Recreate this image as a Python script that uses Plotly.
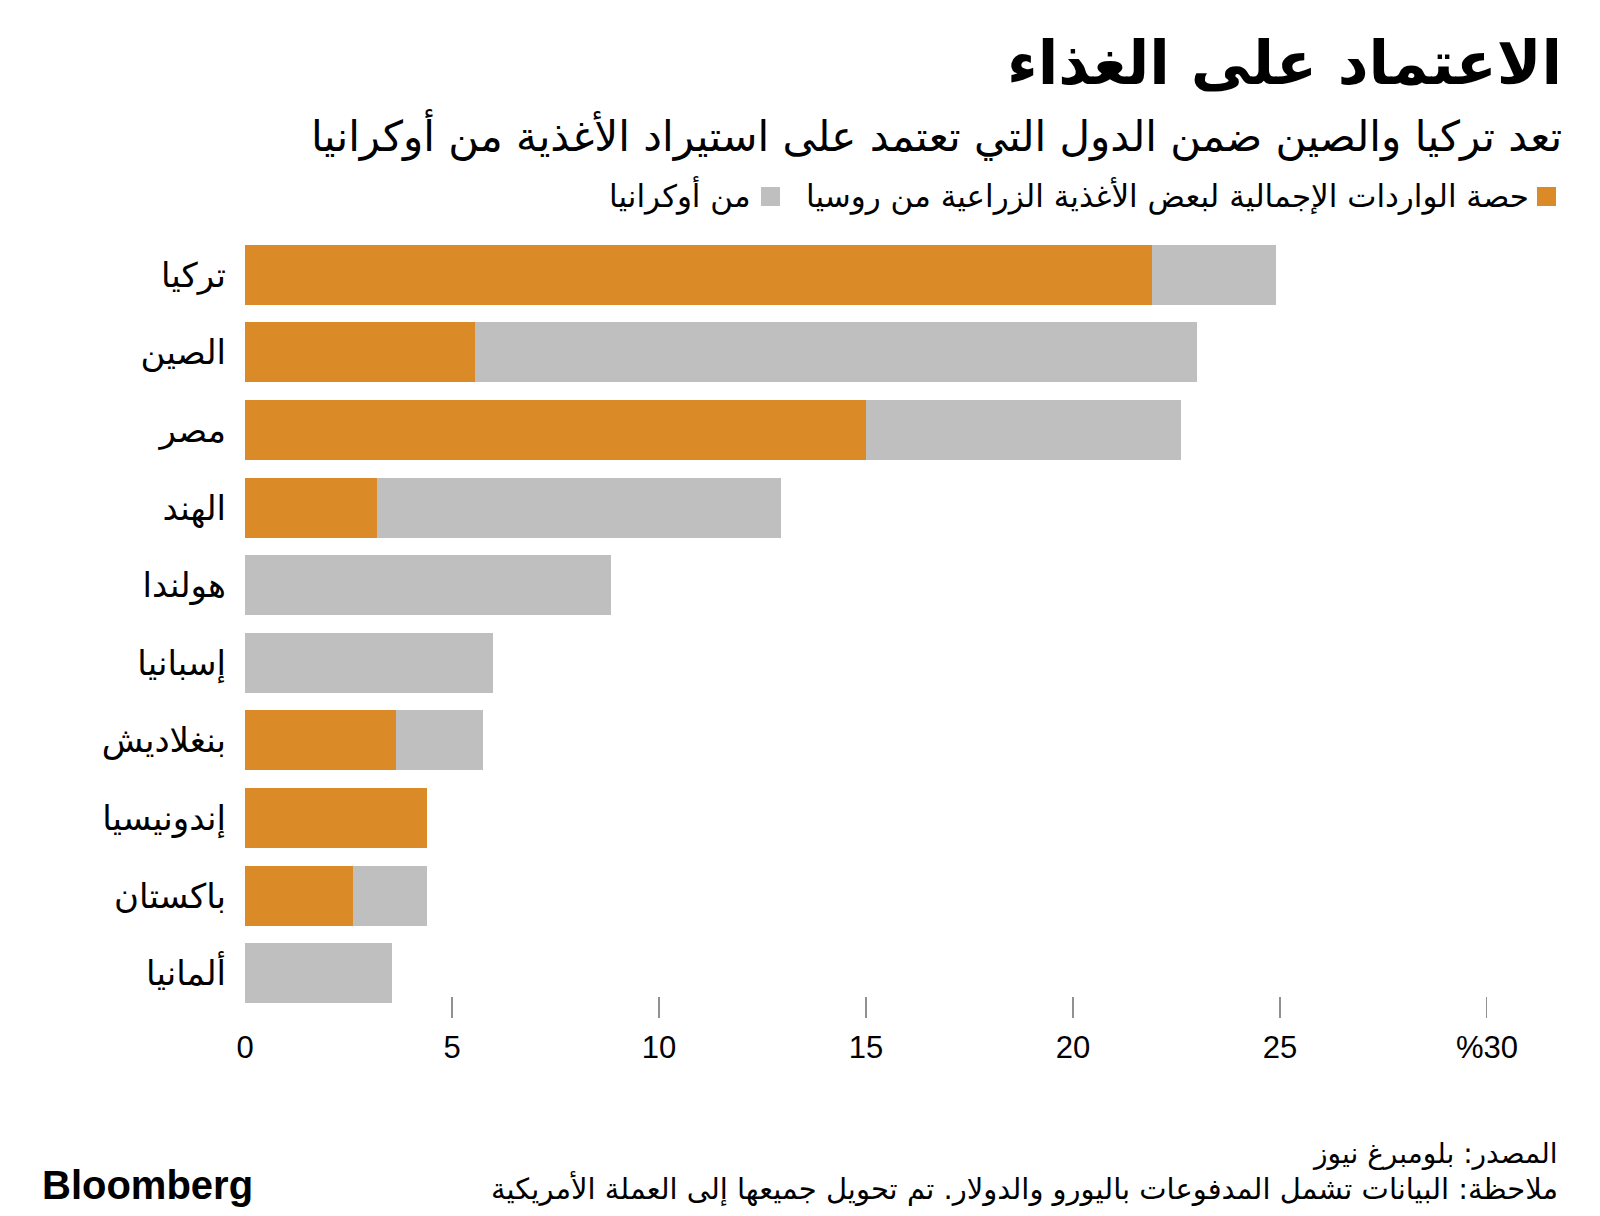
import plotly.graph_objects as go

countries = ["تركيا", "الصين", "مصر", "الهند", "هولندا", "إسبانيا", "بنغلاديش", "إندونيسيا", "باكستان", "ألمانيا"]
russia = [21.9, 5.55, 15.0, 3.2, 0, 0, 3.65, 4.4, 2.6, 0]
ukraine = [3.0, 17.45, 7.6, 9.75, 8.85, 6.0, 2.1, 0, 1.8, 3.55]
tick_vals = [0, 5, 10, 15, 20, 25, 30]
tick_text = ["0", "5", "10", "15", "20", "25", "%30"]

ORANGE = "#da8a26"
GRAY = "#bfbfbf"
AR = "DejaVu Sans"

OFF = 8  # page body margin
W, H = 1584, 1200
L, R, T, B = 237, 105, 228, 196
PW, PH = W - L - R, H - T - B


def px(x):
    # page pixel -> paper x
    return (x - OFF - L) / PW


def py(y):
    # page pixel -> paper y
    return (H - B - (y - OFF)) / PH


fig = go.Figure()
fig.add_bar(y=countries, x=russia, orientation="h", marker=dict(color=ORANGE, line=dict(width=0)),
            name="روسيا", showlegend=False)
fig.add_bar(y=countries, x=ukraine, orientation="h", marker=dict(color=GRAY, line=dict(width=0)),
            name="أوكرانيا", showlegend=False)

shapes = []
for v in tick_vals[1:]:
    shapes.append(dict(type="line", xref="x", yref="paper", x0=v, x1=v, y0=py(997), y1=py(1018),
                       line=dict(color="#222", width=1)))
# legend squares
shapes.append(dict(type="rect", xref="paper", yref="paper", x0=px(1537), x1=px(1556), y0=py(187), y1=py(206),
                   fillcolor=ORANGE, line=dict(width=0)))
shapes.append(dict(type="rect", xref="paper", yref="paper", x0=px(761), x1=px(780), y0=py(187), y1=py(206),
                   fillcolor=GRAY, line=dict(width=0)))

ann = [
    dict(text="<b>الاعتماد على الغذاء</b>", x=px(1563), y=py(63), font=dict(size=60, family=AR, color="#000")),
    dict(text="تعد تركيا والصين ضمن الدول التي تعتمد على استيراد الأغذية من أوكرانيا", x=px(1563), y=py(135),
         font=dict(size=42, family=AR, color="#000")),
    dict(text="حصة الواردات الإجمالية لبعض الأغذية الزراعية من روسيا", x=px(1530), y=py(196),
         font=dict(size=31, family=AR, color="#000")),
    dict(text="من أوكرانيا", x=px(752), y=py(196), font=dict(size=31, family=AR, color="#000")),
    dict(text="المصدر: بلومبرغ نيوز", x=px(1559), y=py(1153), font=dict(size=28, family=AR, color="#000")),
    dict(text="ملاحظة: البيانات تشمل المدفوعات باليورو والدولار. تم تحويل جميعها إلى العملة الأمريكية",
         x=px(1559), y=py(1188), font=dict(size=29, family=AR, color="#000")),
]
annotations = [dict(a, xref="paper", yref="paper", xanchor="right", yanchor="middle", showarrow=False,
                    borderpad=0) for a in ann]
annotations.append(dict(text="<b>Bloomberg</b>", x=px(41), y=py(1185), xref="paper", yref="paper",
                        xanchor="left", yanchor="middle", showarrow=False, borderpad=0,
                        font=dict(size=40, family="Liberation Sans", color="#000")))

fig.update_layout(
    width=W, height=H,
    margin=dict(l=L, r=R, t=T, b=B, autoexpand=False),
    barmode="stack", bargap=0.227,
    plot_bgcolor="white", paper_bgcolor="white",
    shapes=shapes, annotations=annotations,
    xaxis=dict(range=[0, 30], tickvals=tick_vals, ticktext=tick_text, showgrid=False, zeroline=False,
               showline=False, ticks="", ticklabelstandoff=14,
               tickfont=dict(size=31, family="Liberation Sans", color="#000")),
    yaxis=dict(autorange="reversed", showgrid=False, zeroline=False, showline=False, ticks="",
               ticklabelstandoff=18, tickfont=dict(size=34, family=AR, color="#000")),
)

fig.write_html("out.html")
